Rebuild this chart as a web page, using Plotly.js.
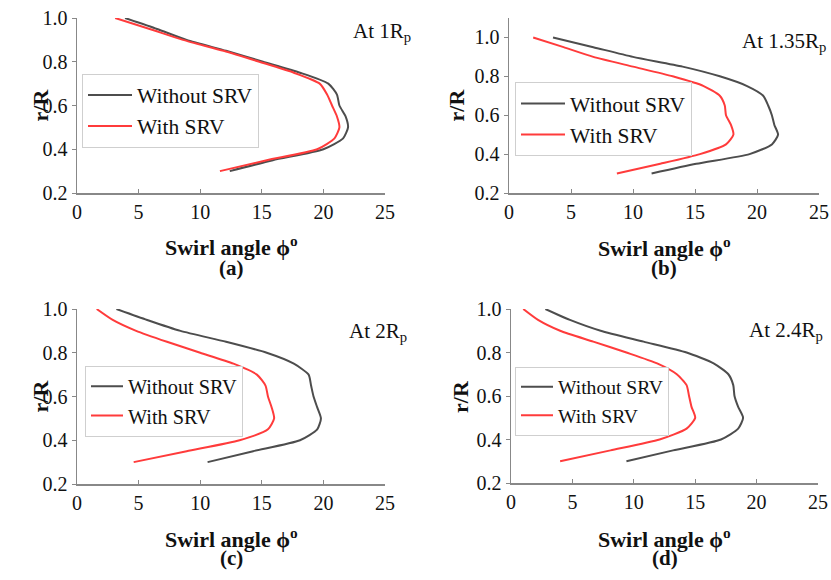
<!DOCTYPE html>
<html>
<head>
<meta charset="utf-8">
<script src="https://cdn.plot.ly/plotly-3.0.1.min.js"></script>
<style>html,body{margin:0;padding:0;background:#fff;}#chart{width:831px;height:580px;}</style>
</head>
<body>
<div id="chart"></div>
<script>
// r/R positions (shared by all panels)
const rR = [1.0, 0.95, 0.9, 0.85, 0.8, 0.75, 0.7, 0.65, 0.6, 0.55, 0.5, 0.45, 0.4, 0.35, 0.3];

// Panel (a) At 1Rp
const aWithout = [3.9, 6.5, 8.9, 12.1, 15.1, 18.1, 20.4, 21.1, 21.3, 21.8, 22.0, 21.6, 20.0, 15.9, 12.4];
const aWith    = [3.1, 5.9, 8.6, 11.9, 14.8, 17.6, 19.7, 20.3, 20.7, 21.1, 21.3, 20.9, 19.5, 15.4, 11.6];
// Panel (b) At 1.35Rp
const bWithout = [3.55, 6.8, 10.0, 14.0, 17.0, 19.2, 20.5, 20.9, 21.2, 21.4, 21.7, 21.2, 19.4, 15.1, 11.5];
const bWith    = [1.95, 4.4, 6.8, 10.0, 13.2, 15.7, 17.0, 17.4, 17.5, 17.9, 18.1, 17.5, 15.4, 12.2, 8.7];
// Panel (c) At 2Rp
const cWithout = [3.2, 5.7, 8.4, 12.1, 15.4, 17.6, 18.8, 19.0, 19.2, 19.5, 19.8, 19.5, 18.1, 14.3, 10.6];
const cWith    = [1.6, 2.9, 4.8, 7.3, 10.0, 12.7, 14.6, 15.3, 15.5, 15.8, 16.0, 15.5, 13.2, 8.9, 4.6];
// Panel (d) At 2.4Rp
const dWithout = [2.8, 4.8, 7.3, 10.8, 14.3, 16.5, 17.7, 18.1, 18.2, 18.5, 18.9, 18.5, 17.1, 13.2, 9.4];
const dWith    = [1.0, 2.2, 4.0, 6.7, 9.4, 11.9, 13.5, 14.3, 14.5, 14.7, 15.0, 14.3, 12.1, 8.1, 4.0];

const seriesNames = ['Without SRV', 'With SRV'];
const panelLabels = ['(a)', '(b)', '(c)', '(d)'];
const stationLabels = ['At 1R<sub>p</sub>', 'At 1.35R<sub>p</sub>', 'At 2R<sub>p</sub>', 'At 2.4R<sub>p</sub>'];
const xTickVals = [0, 5, 10, 15, 20, 25];
const yTickVals = [0.2, 0.4, 0.6, 0.8, 1.0];

const W = 831, H = 580;
const px = v => v / W;
const py = v => 1 - v / H;

const SERIF = 'Liberation Serif, Times New Roman, serif';
const colBlack = '#4d4d4d';
const colRed = '#ff3b3b';

const panels = [
  {without: aWithout, withS: aWith, xs: 'x', ys: 'y', leg: 'legend'},
  {without: bWithout, withS: bWith, xs: 'x2', ys: 'y2', leg: 'legend2'},
  {without: cWithout, withS: cWith, xs: 'x3', ys: 'y3', leg: 'legend3'},
  {without: dWithout, withS: dWith, xs: 'x4', ys: 'y4', leg: 'legend4'}
];

const traces = [];
panels.forEach(p => {
  traces.push({x: p.without, y: rR, xaxis: p.xs, yaxis: p.ys, type: 'scatter', mode: 'lines',
    name: seriesNames[0], legend: p.leg, line: {color: colBlack, width: 2, shape: 'spline', smoothing: 0.6}});
  traces.push({x: p.withS, y: rR, xaxis: p.xs, yaxis: p.ys, type: 'scatter', mode: 'lines',
    name: seriesNames[1], legend: p.leg, line: {color: colRed, width: 2, shape: 'spline', smoothing: 0.6}});
});

// geometry (pixels)
const geo = [
  {x0: 77, x1: 385, yTop: 18, yBot: 193, yMax: 1.0, ylab: 40, xt: 246, pl: 268, st: [413, 32], lg: [82, 110.5], lf: 21.5, iw: 44},
  {x0: 509, x1: 819, yTop: 18, yBot: 193, yMax: 1.1, ylab: 456, xt: 247, pl: 268, st: [828, 42], lg: [515, 119], lf: 21.5, iw: 44},
  {x0: 77, x1: 385, yTop: 309, yBot: 484, yMax: 1.0, ylab: 40, xt: 538, pl: 558, st: [409, 332], lg: [85, 401], lf: 20.3, iw: 32},
  {x0: 511, x1: 818, yTop: 309, yBot: 483, yMax: 1.0, ylab: 460, xt: 538, pl: 558, st: [825, 331], lg: [515, 401], lf: 19.6, iw: 32}
];

const layout = {
  width: W, height: H,
  margin: {l: 0, r: 0, t: 0, b: 0},
  paper_bgcolor: '#fff', plot_bgcolor: '#fff',
  font: {family: SERIF, size: 20, color: '#111'},
  annotations: []
};

const axNames = ['', '2', '3', '4'];
geo.forEach((g, i) => {
  const xa = 'xaxis' + axNames[i], ya = 'yaxis' + axNames[i];
  const yid = 'y' + axNames[i], xid = 'x' + axNames[i];
  layout[xa] = {
    domain: [px(g.x0), px(g.x1)], anchor: yid, range: [0, 25],
    tickvals: xTickVals, ticks: 'inside', ticklen: 4, tickcolor: '#888', tickwidth: 1,
    showline: true, linecolor: '#888', linewidth: 1.5, showgrid: false, zeroline: false,
    tickfont: {family: SERIF, size: 20, color: '#111'}, fixedrange: true
  };
  layout[ya] = {
    domain: [py(g.yBot), py(g.yTop)], anchor: xid, range: [0.2, g.yMax],
    tickvals: yTickVals, tickformat: '.1f', ticks: 'outside', ticklen: 4, tickcolor: '#888', tickwidth: 1,
    showline: true, linecolor: '#888', linewidth: 1.5, showgrid: false, zeroline: false,
    tickfont: {family: SERIF, size: 20, color: '#111'}, fixedrange: true
  };
  const legKey = i === 0 ? 'legend' : 'legend' + (i + 1);
  layout[legKey] = {
    x: px(g.lg[0]), y: py(g.lg[1]), xanchor: 'left', yanchor: 'middle',
    bgcolor: '#fff', bordercolor: '#cfcfcf', borderwidth: 1, itemwidth: g.iw,
    font: {family: SERIF, size: g.lf, color: '#111'}, tracegroupgap: 0
  };
  const cx = (g.x0 + g.x1) / 2;
  layout.annotations.push(
    {xref: 'paper', yref: 'paper', x: px(cx), y: py(g.xt), text: '<b>Swirl angle ϕ<sup>o</sup></b>',
     showarrow: false, xanchor: 'center', yanchor: 'middle', font: {family: SERIF, size: 22, color: '#111'}},
    {xref: 'paper', yref: 'paper', x: px(cx), y: py(g.pl), text: '<b>' + panelLabels[i] + '</b>',
     showarrow: false, xanchor: 'center', yanchor: 'middle', font: {family: SERIF, size: 21, color: '#111'}},
    {xref: 'paper', yref: 'paper', x: px(g.ylab), y: py((g.yTop + g.yBot) / 2), text: '<b>r/R</b>', textangle: -90,
     showarrow: false, xanchor: 'center', yanchor: 'middle', font: {family: SERIF, size: 22, color: '#111'}},
    {xref: 'paper', yref: 'paper', x: px(g.st[0]), y: py(g.st[1]), text: stationLabels[i],
     showarrow: false, xanchor: 'right', yanchor: 'middle', font: {family: SERIF, size: 21, color: '#111'}}
  );
});

Plotly.newPlot('chart', traces, layout, {displayModeBar: false, staticPlot: true});
</script>
</body>
</html>
